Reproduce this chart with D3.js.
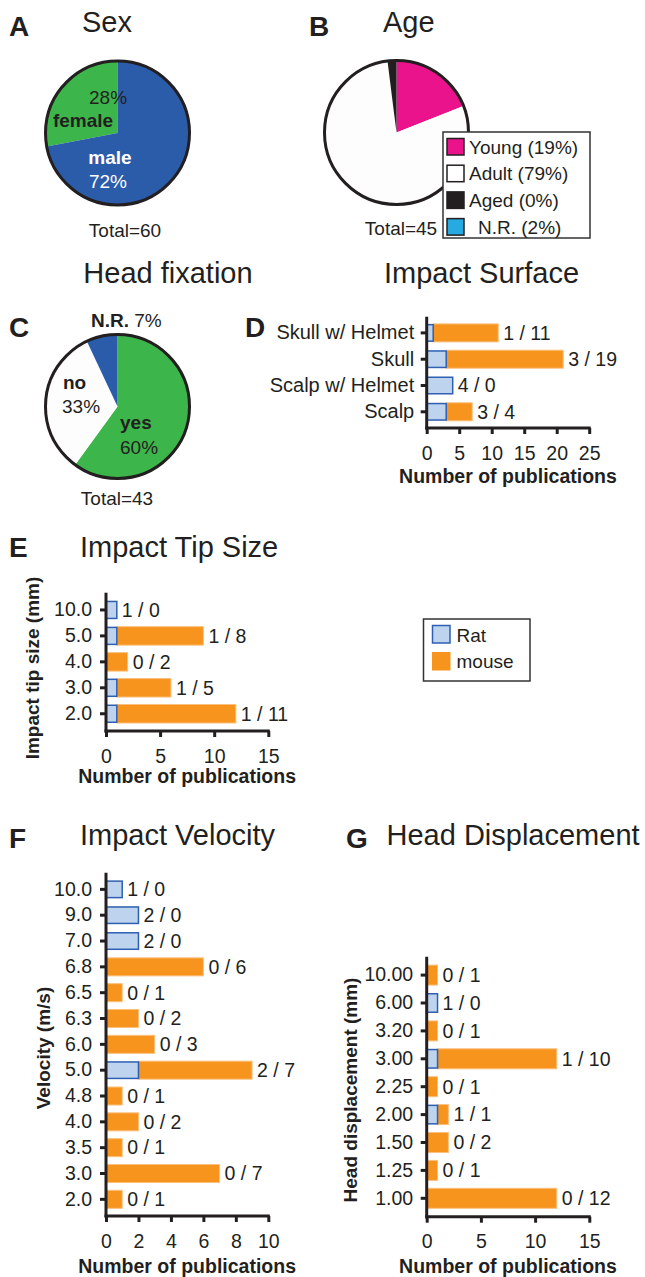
<!DOCTYPE html>
<html><head><meta charset="utf-8">
<script src="https://cdn.jsdelivr.net/npm/d3@7"></script>
<style>body{margin:0;background:#fff}svg{display:block}</style>
</head><body><svg id="c" width="645" height="1277"></svg>
<script>
// ---------- DATA ----------
const sexLabels = ["female", "male"];
const sexValues = [28, 72];
const sexTotal = "Total=60";

const ageLabels = ["Young (19%)", "Adult (79%)", "Aged (0%)", "N.R. (2%)"];
const ageValues = [19, 79, 0, 2];
const ageTotal = "Total=45";

const fixLabels = ["yes", "no", "N.R."];
const fixValues = [60, 33, 7];
const fixTotal = "Total=43";

const surfaceCats = ["Skull w/ Helmet", "Skull", "Scalp w/ Helmet", "Scalp"];
const surfaceRat = [1, 3, 4, 3];
const surfaceMouse = [10, 18, 0, 4];
const surfaceText = ["1 / 11", "3 / 19", "4 / 0", "3 / 4"];
const surfaceTicks = [0, 5, 10, 15, 20, 25];

const tipCats = ["10.0", "5.0", "4.0", "3.0", "2.0"];
const tipRat = [1, 1, 0, 1, 1];
const tipMouse = [0, 8, 2, 5, 11];
const tipText = ["1 / 0", "1 / 8", "0 / 2", "1 / 5", "1 / 11"];
const tipTicks = [0, 5, 10, 15];

const velCats = ["10.0", "9.0", "7.0", "6.8", "6.5", "6.3", "6.0", "5.0", "4.8", "4.0", "3.5", "3.0", "2.0"];
const velRat = [1, 2, 2, 0, 0, 0, 0, 2, 0, 0, 0, 0, 0];
const velMouse = [0, 0, 0, 6, 1, 2, 3, 7, 1, 2, 1, 7, 1];
const velText = ["1 / 0", "2 / 0", "2 / 0", "0 / 6", "0 / 1", "0 / 2", "0 / 3", "2 / 7", "0 / 1", "0 / 2", "0 / 1", "0 / 7", "0 / 1"];
const velTicks = [0, 2, 4, 6, 8, 10];

const dispCats = ["10.00", "6.00", "3.20", "3.00", "2.25", "2.00", "1.50", "1.25", "1.00"];
const dispRat = [0, 1, 0, 1, 0, 1, 0, 0, 0];
const dispMouse = [1, 0, 1, 11, 1, 1, 2, 1, 12];
const dispText = ["0 / 1", "1 / 0", "0 / 1", "1 / 10", "0 / 1", "1 / 1", "0 / 2", "0 / 1", "0 / 12"];
const dispTicks = [0, 5, 10, 15];

const speciesLabels = ["Rat", "mouse"];

// ---------- STYLE ----------
const FONT = "'Liberation Sans', Arial, Helvetica, sans-serif";
const INK = "#231f20";
const C_BLUE = "#2b5ca9", C_GREEN = "#3cb54a", C_MAG = "#ea138c", C_CYAN = "#27aae1";
const RAT_FILL = "#bdd3ee", RAT_STROKE = "#2e5fb2", ORANGE = "#f7941d";
const TITLE = 29, LETTER = 28;

const svg = d3.select("#c");
svg.append("rect").attr("width", 645).attr("height", 1277).attr("fill", "#fff");

function txt(x, y, s, o = {}) {
  return svg.append("text").attr("x", x).attr("y", y).text(s)
    .attr("font-family", FONT).attr("font-size", o.size || 19)
    .attr("font-weight", o.weight || "normal")
    .attr("text-anchor", o.anchor || "start")
    .attr("fill", o.fill || INK);
}

// ---------- PIES ----------
function pie(cx, cy, r, values, colors, start) {
  const g = svg.append("g").attr("transform", `translate(${cx},${cy})`);
  const p = d3.pie().sort(null).value(d => d).startAngle(start).endAngle(start + 2 * Math.PI);
  const arc = d3.arc().innerRadius(0).outerRadius(r);
  g.selectAll("path").data(p(values)).join("path")
    .attr("d", arc).attr("fill", (d, i) => colors[i]);
  g.append("circle").attr("r", r).attr("fill", "none").attr("stroke", INK).attr("stroke-width", 3);
  return g;
}

// A - Sex
txt(9, 36, "A", { size: LETTER, weight: "bold" });
txt(82, 32, "Sex", { size: TITLE });
pie(117.5, 133, 72, sexValues, [C_GREEN, C_BLUE], -sexValues[0] / 100 * 2 * Math.PI);
txt(89, 104, sexValues[0] + "%");
txt(83, 127, sexLabels[0], { weight: "bold", anchor: "middle" });
txt(110, 164, sexLabels[1], { weight: "bold", anchor: "middle", fill: "#fff" });
txt(108, 188, sexValues[1] + "%", { anchor: "middle", fill: "#fff" });
txt(125, 237, sexTotal, { anchor: "middle" });

// B - Age
txt(309, 36, "B", { size: LETTER, weight: "bold" });
txt(383, 32, "Age", { size: TITLE });
pie(396.5, 132.5, 72, ageValues, [C_MAG, "#fdfdfd", INK, INK], 0);
txt(401, 235, ageTotal, { anchor: "middle" });
svg.append("rect").attr("x", 443).attr("y", 132).attr("width", 147).attr("height", 106)
  .attr("fill", "#fff").attr("stroke", "#333").attr("stroke-width", 1.5);
const ageSwatch = [C_MAG, "#fff", INK, C_CYAN];
ageLabels.forEach((l, i) => {
  const y = 138.5 + i * 26.7;
  svg.append("rect").attr("x", 447).attr("y", y).attr("width", 17).attr("height", 16.5)
    .attr("fill", ageSwatch[i]).attr("stroke", INK).attr("stroke-width", 1.5);
  txt(i === 3 ? 478 : 469, y + 15, l);
});

// C - Head fixation
txt(168, 283, "Head fixation", { size: TITLE, anchor: "middle" });
txt(9, 337, "C", { size: LETTER, weight: "bold" });
pie(117.5, 406.5, 72, fixValues, [C_GREEN, "#fdfdfd", C_BLUE], 0);
const nr = txt(91, 327, "");
nr.append("tspan").attr("font-weight", "bold").text(fixLabels[2]);
nr.append("tspan").text(" " + fixValues[2] + "%");
txt(63, 389, fixLabels[1], { weight: "bold" });
txt(62, 413, fixValues[1] + "%");
txt(120, 429, fixLabels[0], { weight: "bold" });
txt(120, 454, fixValues[0] + "%");
txt(117, 505, fixTotal, { anchor: "middle" });

// ---------- BAR CHARTS ----------
function barChart(o) {
  const n = o.cats.length;
  const L = o.bottom - o.top;
  const pi = 1 - o.barH / o.step;
  const po = (L / o.step - n + pi) / 2;
  const y = d3.scaleBand().domain(o.cats).range([o.top, o.bottom]).paddingInner(pi).paddingOuter(po);
  const x = d3.scaleLinear().domain([0, o.max]).range([o.x0, o.x1]);
  const g = svg.append("g");
  g.selectAll("rect.m").data(o.cats).join("rect").attr("class", "m")
    .attr("x", (d, i) => x(o.rat[i]))
    .attr("y", d => y(d))
    .attr("width", (d, i) => x(o.rat[i] + o.mouse[i]) - x(o.rat[i]))
    .attr("height", y.bandwidth())
    .attr("fill", ORANGE).attr("stroke", "#fbc07e").attr("stroke-width", 1)
    .style("display", (d, i) => o.mouse[i] > 0 ? null : "none");
  g.selectAll("rect.r").data(o.cats).join("rect").attr("class", "r")
    .attr("x", x(0))
    .attr("y", d => y(d) + 0.75)
    .attr("width", (d, i) => x(o.rat[i]) - x(0))
    .attr("height", y.bandwidth() - 1.5)
    .attr("fill", RAT_FILL).attr("stroke", RAT_STROKE).attr("stroke-width", 1.5)
    .style("display", (d, i) => o.rat[i] > 0 ? null : "none");
  g.selectAll("text.v").data(o.cats).join("text").attr("class", "v")
    .attr("x", (d, i) => x(o.rat[i] + o.mouse[i]) + 5)
    .attr("y", d => y(d) + y.bandwidth() / 2)
    .attr("dy", "0.35em")
    .attr("font-family", FONT).attr("font-size", 19.5).attr("fill", INK)
    .text((d, i) => o.text[i]);
  const ya = g.append("g").attr("transform", `translate(${o.x0},0)`)
    .call(d3.axisLeft(y).tickSize(6).tickPadding(o.yPad));
  ya.select(".domain").remove();
  ya.selectAll(".tick line").attr("stroke", INK).attr("stroke-width", 3);
  ya.selectAll(".tick text").attr("font-family", FONT).attr("font-size", o.ySize).attr("fill", INK);
  const xa = g.append("g").attr("transform", `translate(0,${o.bottom})`)
    .call(d3.axisBottom(x).tickValues(o.ticks).tickSize(6).tickFormat(d3.format("d")));
  xa.select(".domain").remove();
  xa.selectAll(".tick line").attr("stroke", INK).attr("stroke-width", 3);
  xa.selectAll(".tick text").attr("font-family", FONT).attr("font-size", 19.5).attr("fill", INK)
    .attr("y", 31.5).attr("dy", 0);
  g.append("line").attr("x1", o.x0).attr("x2", o.x0).attr("y1", o.top).attr("y2", o.bottom + 1.5)
    .attr("stroke", INK).attr("stroke-width", 3);
  g.append("line").attr("x1", o.x0 - 1.5).attr("x2", o.x1 + 1.5).attr("y1", o.bottom).attr("y2", o.bottom)
    .attr("stroke", INK).attr("stroke-width", 3);
  txt((o.x0 + o.x1) / 2, o.bottom + o.xtDy, "Number of publications", { weight: "bold", size: 19.5, anchor: "middle" });
  if (o.yTitle) {
    svg.append("text").attr("transform", `translate(${o.ytX},${o.ytY}) rotate(-90)`)
      .attr("text-anchor", "middle").attr("font-family", FONT).attr("font-size", 19)
      .attr("font-weight", "bold").attr("fill", INK).text(o.yTitle);
  }
}

// D - Impact Surface
txt(384, 283, "Impact Surface", { size: TITLE });
txt(245, 337, "D", { size: LETTER, weight: "bold" });
barChart({ cats: surfaceCats, rat: surfaceRat, mouse: surfaceMouse, text: surfaceText, ticks: surfaceTicks,
  max: 25, x0: 426.7, x1: 589.2, top: 316.7, bottom: 428, step: 26.3, barH: 18, yPad: 6.5, ySize: 20, xtDy: 54.5 });

// E - Impact Tip Size
txt(9, 557, "E", { size: LETTER, weight: "bold" });
txt(80, 557, "Impact Tip Size", { size: TITLE });
barChart({ cats: tipCats, rat: tipRat, mouse: tipMouse, text: tipText, ticks: tipTicks,
  max: 15, x0: 106, x1: 268.3, top: 592.7, bottom: 731, step: 25.95, barH: 18.5, yPad: 8, ySize: 19.5, xtDy: 52,
  yTitle: "Impact tip size (mm)", ytX: 39, ytY: 668 });

// Legend Rat / mouse
svg.append("rect").attr("x", 423.5).attr("y", 619).attr("width", 106.5).attr("height", 62)
  .attr("fill", "#fff").attr("stroke", "#333").attr("stroke-width", 1.5);
svg.append("rect").attr("x", 432.5).attr("y", 625.5).attr("width", 17.5).attr("height", 17.5)
  .attr("fill", RAT_FILL).attr("stroke", RAT_STROKE).attr("stroke-width", 1.5);
svg.append("rect").attr("x", 432).attr("y", 652).attr("width", 18.5).attr("height", 18.5).attr("fill", ORANGE);
txt(456.5, 642, speciesLabels[0]);
txt(456.5, 668, speciesLabels[1]);

// F - Impact Velocity
txt(9, 848, "F", { size: LETTER, weight: "bold" });
txt(80, 845, "Impact Velocity", { size: TITLE });
barChart({ cats: velCats, rat: velRat, mouse: velMouse, text: velText, ticks: velTicks,
  max: 10, x0: 106, x1: 268.3, top: 872.7, bottom: 1216, step: 25.83, barH: 18, yPad: 8, ySize: 19.5, xtDy: 56.5,
  yTitle: "Velocity (m/s)", ytX: 50, ytY: 1048 });

// G - Head Displacement
txt(346, 848, "G", { size: LETTER, weight: "bold" });
txt(386.5, 845, "Head Displacement", { size: TITLE });
barChart({ cats: dispCats, rat: dispRat, mouse: dispMouse, text: dispText, ticks: dispTicks,
  max: 15, x0: 426.7, x1: 589.3, top: 956.7, bottom: 1216.7, step: 27.9, barH: 20, yPad: 7.5, ySize: 19.5, xtDy: 56,
  yTitle: "Head displacement (mm)", ytX: 356.5, ytY: 1090 });
</script></body></html>
